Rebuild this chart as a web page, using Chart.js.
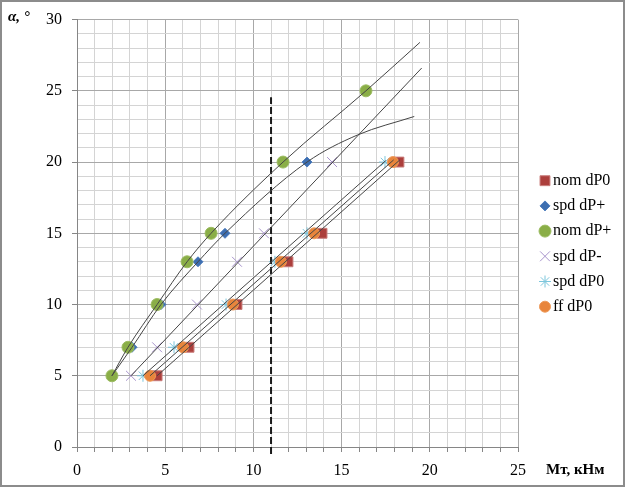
<!DOCTYPE html>
<html>
<head>
<meta charset="utf-8">
<script src="https://cdn.jsdelivr.net/npm/chart.js@4/dist/chart.umd.min.js"></script>
<style>
  body { margin: 0; background: #fff; }
  canvas { display: block; }
</style>
</head>
<body>
<canvas id="chart" width="625" height="487"></canvas>
<script>
// alpha levels (deg) for the measured series
const ALPHA_6 = [5, 7, 10, 13, 15, 20];
const ALPHA_7 = [5, 7, 10, 13, 15, 20, 25];

// Mт, кНм
const nomDP0 = [4.54, 6.35, 9.07, 11.96, 13.89, 18.25];
const spdDPplus = [1.98, 3.12, 4.76, 6.86, 8.39, 13.04];
const nomDPplus = [1.98, 2.89, 4.54, 6.24, 7.6, 11.68, 16.38];
const spdDPminus = [3.06, 4.54, 6.8, 9.07, 10.6, 14.46];
const spdDP0 = [3.74, 5.5, 8.45, 11.22, 13.04, 17.46];
const ffDP0 = [4.14, 6.01, 8.84, 11.56, 13.44, 17.91];

// trendlines, points
const trendNomPlusM = [1.98, 2.89, 4.54, 6.24, 7.6, 11.68, 16.38, 19.44];
const trendNomPlusA = [5, 7, 10, 13, 15, 20, 25, 28.4];
const trendSpdPlusM = [1.98, 3.12, 4.76, 6.86, 8.39, 13.04, 15.9, 19.12];
const trendSpdPlusA = [5, 7, 10, 13, 15, 20, 21.9, 23.2];
const trendSpdMinusM = [3.06, 19.54];
const trendSpdMinusA = [5, 26.6];
const trendNomDP0M = [4.54, 18.3];
const trendNomDP0A = [5, 20.15];
const trendFfDP0M = [4.14, 17.95];
const trendFfDP0A = [5, 20.15];
const trendSpdDP0M = [3.74, 17.5];
const trendSpdDP0A = [5, 20.1];

// vertical dashed marker
const markerM = [11, 11];
const markerA = [-0.5, 24.55];

const X_MIN = 0, X_MAX = 25, Y_MIN = 0, Y_MAX = 30;

function pts(xs, ys) {
    return xs.map((x, i) => ({ x: x, y: ys[i] }));
}

const SERIES = [
    { label: 'nom dP0', x: nomDP0, y: ALPHA_6, style: 'rect', r: 7, bg: '#ac3f3c', bc: '#c97d7b', bw: 1, order: 6 },
    { label: 'spd dP+', x: spdDPplus, y: ALPHA_6, style: 'rectRot', r: 5, bg: '#3d6eb0', bc: '#4a7bbd', bw: 1, order: 5 },
    { label: 'nom dP+', x: nomDPplus, y: ALPHA_7, style: 'circle', r: 6, bg: '#8aae47', bc: '#9cbc62', bw: 1, order: 4 },
    { label: 'spd dP-', x: spdDPminus, y: ALPHA_6, style: 'crossRot', r: 7, bg: '#a894cc', bc: '#a894cc', bw: 1, order: 3 },
    { label: 'spd dP0', x: spdDP0, y: ALPHA_6, style: 'star', r: 6, bg: '#7cc6dc', bc: '#7cc6dc', bw: 1, order: 2 },
    { label: 'ff dP0', x: ffDP0, y: ALPHA_6, style: 'circle', r: 5.5, bg: '#e8853c', bc: '#ee9a5a', bw: 1, order: 1 }
];

const TRENDS = [
    [trendNomPlusM, trendNomPlusA, true],
    [trendSpdPlusM, trendSpdPlusA, true],
    [trendSpdMinusM, trendSpdMinusA, false],
    [trendNomDP0M, trendNomDP0A, false],
    [trendFfDP0M, trendFfDP0A, false],
    [trendSpdDP0M, trendSpdDP0A, false]
];

const datasets = [];

SERIES.forEach(s => {
    datasets.push({
        label: s.label,
        data: pts(s.x, s.y),
        showLine: false,
        pointStyle: s.style,
        pointRadius: s.r,
        backgroundColor: s.bg,
        borderColor: s.bc,
        pointBorderWidth: s.bw,
        order: s.order
    });
});

TRENDS.forEach(t => {
    datasets.push({
        label: 'trend',
        data: pts(t[0], t[1]),
        showLine: true,
        borderColor: '#454545',
        borderWidth: 1,
        pointRadius: 0,
        cubicInterpolationMode: t[2] ? 'monotone' : 'default',
        order: 0
    });
});

datasets.push({
    label: 'marker',
    data: pts(markerM, markerA),
    showLine: true,
    borderColor: '#1a1a1a',
    borderWidth: 2,
    borderDash: [7, 3],
    pointRadius: 0,
    clip: false,
    order: 0
});

const MINOR = '#d4d4d4';
const MAJOR = '#a8a8a8';
const AXIS = '#868686';
const FONT = 'Liberation Serif';

const extras = {
    id: 'extras',
    afterDraw(chart) {
        const ctx = chart.ctx;
        ctx.save();
        // outer frame
        ctx.strokeStyle = '#8c8c8c';
        ctx.lineWidth = 2;
        ctx.strokeRect(1, 1, 623, 485);

        // axis titles
        ctx.fillStyle = '#000';
        ctx.textBaseline = 'middle';
        ctx.textAlign = 'left';
        ctx.font = 'italic bold 15px "' + FONT + '"';
        ctx.fillText('α, °', 8, 17);
        ctx.font = 'bold 15px "' + FONT + '"';
        ctx.fillText('Мт, кНм', 546, 470);

        // legend
        const drawPoint = Chart.helpers && Chart.helpers.drawPoint;
        SERIES.forEach((s, i) => {
            const y = 180.7 + i * 25.2;
            ctx.fillStyle = s.bg;
            ctx.strokeStyle = s.bc;
            ctx.lineWidth = s.bw;
            if (drawPoint) {
                drawPoint(ctx, { pointStyle: s.style, radius: s.r, rotation: 0, borderWidth: s.bw }, 545, y);
            } else {
                ctx.fillRect(540, y - 5, 10, 10);
            }
            ctx.fillStyle = '#000';
            ctx.font = '16px "' + FONT + '"';
            ctx.textBaseline = 'middle';
            ctx.fillText(s.label, 553, y);
        });
        ctx.restore();
    }
};

new Chart(document.getElementById('chart'), {
    type: 'scatter',
    data: { datasets: datasets },
    plugins: [extras],
    options: {
        responsive: false,
        animation: false,
        layout: { padding: { left: 0, right: 107, top: 9, bottom: 0 } },
        plugins: {
            legend: { display: false },
            tooltip: { enabled: false }
        },
        scales: {
            x: {
                type: 'linear',
                min: X_MIN,
                max: X_MAX,
                afterFit: s => { s.height = 40; },
                ticks: {
                    stepSize: 1,
                    autoSkip: false,
                    maxRotation: 0,
                    padding: 9,
                    color: '#000',
                    font: { family: FONT, size: 16 },
                    callback: v => (v % 5 === 0 ? v : '')
                },
                grid: {
                    color: c => (c.tick && c.tick.value % 5 === 0 ? MAJOR : MINOR),
                    tickLength: 5,
                    tickColor: AXIS
                },
                border: { color: AXIS }
            },
            y: {
                min: Y_MIN,
                max: Y_MAX,
                afterFit: s => { s.width = 77; },
                ticks: {
                    stepSize: 1,
                    autoSkip: false,
                    padding: 10,
                    color: '#000',
                    font: { family: FONT, size: 16 },
                    callback: v => (v % 5 === 0 ? v : '')
                },
                grid: {
                    color: c => (c.tick && c.tick.value % 5 === 0 ? MAJOR : MINOR),
                    tickLength: 5,
                    tickColor: c => (c.tick && c.tick.value % 5 === 0 ? AXIS : 'rgba(0,0,0,0)')
                },
                border: { color: AXIS }
            }
        }
    }
});
</script>
</body>
</html>
